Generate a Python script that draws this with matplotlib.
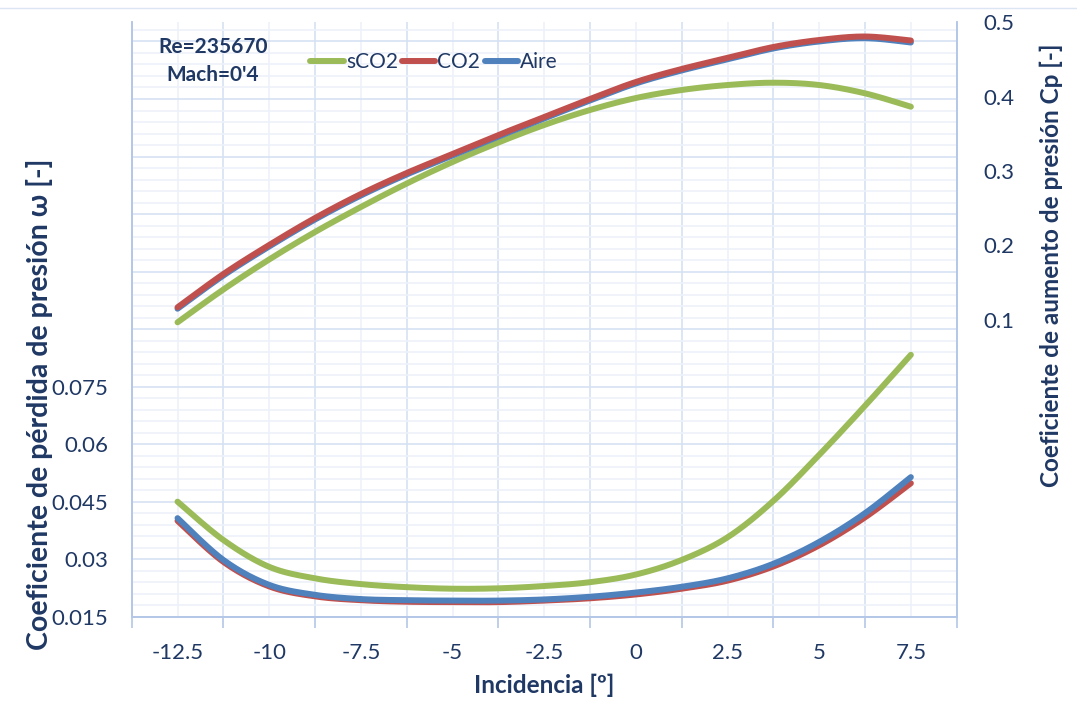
import numpy as np
import matplotlib
matplotlib.use("Agg")
import matplotlib.pyplot as plt
from matplotlib.ticker import FixedLocator, FuncFormatter

# Incidence axis: labelled categories and the sampled incidences (every 1.25 deg)
incidence_labels = ["-12.5", "-10", "-7.5", "-5", "-2.5", "0", "2.5", "5", "7.5"]
incidence = [-12.5, -11.25, -10, -8.75, -7.5, -6.25, -5, -3.75, -2.5,
             -1.25, 0, 1.25, 2.5, 3.75, 5, 6.25, 7.5]

# Pressure loss coefficient omega (left axis)
omega_sco2 = [0.0450, 0.0350, 0.0280, 0.0250, 0.0235, 0.0227, 0.0223, 0.0224, 0.0230,
              0.0240, 0.0260, 0.0298, 0.0357, 0.0452, 0.0572, 0.0700, 0.0833]
omega_co2 = [0.0400, 0.0293, 0.0229, 0.0203, 0.0193, 0.0189, 0.0188, 0.0188, 0.0192,
             0.0198, 0.0208, 0.0223, 0.0244, 0.0281, 0.0336, 0.0409, 0.0498]
omega_aire = [0.0407, 0.0298, 0.0233, 0.0207, 0.0196, 0.0193, 0.0192, 0.0192, 0.0195,
              0.0202, 0.0213, 0.0228, 0.0250, 0.0288, 0.0345, 0.0420, 0.0514]

# Pressure rise coefficient Cp (right axis)
cp_sco2 = [0.0962, 0.1404, 0.1808, 0.2178, 0.2514, 0.2830, 0.3120, 0.3382, 0.3618,
           0.3820, 0.3981, 0.4089, 0.4156, 0.4187, 0.4156, 0.4044, 0.3864]
cp_co2 = [0.1164, 0.1612, 0.2003, 0.2366, 0.2689, 0.2972, 0.3227, 0.3483, 0.3725,
          0.3968, 0.4197, 0.4372, 0.4520, 0.4668, 0.4762, 0.4809, 0.4755]
cp_aire = [0.1145, 0.1592, 0.1983, 0.2346, 0.2669, 0.2952, 0.3207, 0.3463, 0.3705,
           0.3948, 0.4177, 0.4352, 0.4500, 0.4648, 0.4742, 0.4787, 0.4728]

series_names = ["sCO2", "CO2", "Aire"]
GREEN, RED, BLUE = "#9BBB59", "#C0504D", "#4F81BD"
NAVY = "#1F3864"
GRID_MAJOR = "#D6E1F2"
GRID_MINOR = "#EDF2FA"
AXIS_LINE = "#B4C7E7"

plt.rcParams["font.family"] = ["Lato", "DejaVu Sans"]


def smooth(xs, ys, n=30):
    """Bezier smoothing through every point (Catmull-Rom style control points)."""
    xs = np.asarray(xs, float)
    ys = np.asarray(ys, float)
    px = np.concatenate([[xs[0]], xs, [xs[-1]]])
    py = np.concatenate([[ys[0]], ys, [ys[-1]]])
    out_x, out_y = [], []
    t = np.linspace(0, 1, n)
    for i in range(1, len(px) - 2):
        p0 = np.array([px[i], py[i]])
        p3 = np.array([px[i + 1], py[i + 1]])
        c1 = p0 + (np.array([px[i + 1], py[i + 1]]) - np.array([px[i - 1], py[i - 1]])) / 6
        c2 = p3 - (np.array([px[i + 2], py[i + 2]]) - np.array([px[i], py[i]])) / 6
        b = ((1 - t) ** 3)[:, None] * p0 + (3 * (1 - t) ** 2 * t)[:, None] * c1 \
            + (3 * (1 - t) * t ** 2)[:, None] * c2 + (t ** 3)[:, None] * p3
        out_x.append(b[:, 0])
        out_y.append(b[:, 1])
    return np.concatenate(out_x), np.concatenate(out_y)


fig = plt.figure(figsize=(10.77, 7.11), dpi=100)
ax = fig.add_axes([131.7 / 1077, 1 - 616.7 / 711, 825 / 1077, 594.4 / 711])
ax2 = ax.twinx()

# category coordinate: one unit per 2.5 deg, first category at 0
first = float(incidence_labels[0])
pos = (np.asarray(incidence) - first) / 2.5
cat_pos = np.arange(len(incidence_labels))
lw = 4.3

# left axis: loss coefficient (Aire drawn over CO2)
for vals, col, z in [(omega_sco2, GREEN, 3), (omega_co2, RED, 4), (omega_aire, BLUE, 5)]:
    sx, sy = smooth(pos, vals)
    ax.plot(sx, sy, color=col, lw=lw, solid_capstyle="round", zorder=z)

# right axis: pressure rise coefficient (CO2 drawn over Aire)
for vals, col, z in [(cp_sco2, GREEN, 3), (cp_aire, BLUE, 4), (cp_co2, RED, 5)]:
    sx, sy = smooth(pos, vals)
    ax2.plot(sx, sy, color=col, lw=lw, solid_capstyle="round", zorder=z)

ax.set_xlim(-0.5, len(incidence_labels) - 0.5)
ax.set_ylim(0.015, 0.17)
ax2.set_ylim(-0.3, 0.5)

# horizontal grid from the left axis
major_y = np.round(np.arange(0.015, 0.1651, 0.015), 3)
minor_y = np.round(np.arange(0.015, 0.1701, 0.003), 3)
ax.yaxis.set_major_locator(FixedLocator(major_y))
ax.yaxis.set_minor_locator(FixedLocator(minor_y))
ax.yaxis.set_major_formatter(FuncFormatter(lambda v, p: ("%g" % round(v, 3)) if v < 0.076 else ""))

# vertical grid: category boundaries (major) and centres (minor, labelled)
ax.set_xticks(np.arange(-0.5, len(incidence_labels) + 0.5, 1.0))
ax.set_xticklabels([""] * (len(incidence_labels) + 1))
ax.set_xticks(cat_pos, incidence_labels, minor=True)

ax.grid(which="major", color=GRID_MAJOR, lw=1.2, zorder=0)
ax.grid(which="minor", color=GRID_MINOR, lw=1.2, zorder=0)
ax.set_axisbelow(True)

ax.tick_params(axis="x", which="major", length=8, width=1.2, color=AXIS_LINE, direction="out")
ax.tick_params(axis="x", which="minor", length=0, pad=19, labelsize=16, labelcolor=NAVY)
ax.tick_params(axis="y", which="both", length=0, pad=17, labelsize=16, labelcolor=NAVY)

ax2.set_yticks([0.1, 0.2, 0.3, 0.4, 0.5])
ax2.yaxis.set_major_formatter(FuncFormatter(lambda v, p: "%g" % round(v, 2)))
ax2.tick_params(axis="y", length=0, pad=19, labelsize=16, labelcolor=NAVY)

for a in (ax, ax2):
    a.spines["top"].set_visible(False)
    for s in ("left", "right", "bottom"):
        a.spines[s].set_color(AXIS_LINE)
        a.spines[s].set_linewidth(1.2)
ax.patch.set_visible(False)

# chart area top edge
fig.add_artist(plt.Line2D([0, 1], [1 - 8 / 711, 1 - 8 / 711], transform=fig.transFigure,
                          color="#DCE5F3", lw=1.0))

# axis titles
fig.text(544 / 1077, 1 - 685 / 711, "Incidencia [º]", ha="center", va="center",
         fontsize=17.5, fontweight="bold", color=NAVY)
fig.text(40 / 1077, 1 - 404 / 711, "Coeficiente de pérdida de presión ω [-]", rotation=90,
         ha="center", va="center", fontsize=20.5, fontweight="bold", color=NAVY)
fig.text(1051 / 1077, 1 - 265 / 711, "Coeficiente de aumento de presión Cp [-]", rotation=90,
         ha="center", va="center", fontsize=17.5, fontweight="bold", color=NAVY)

# flow conditions
fig.text(213 / 1077, 1 - 47 / 711, "Re=235670", ha="center", va="center",
         fontsize=15, fontweight="bold", color=NAVY)
fig.text(213 / 1077, 1 - 75 / 711, "Mach=0'4", ha="center", va="center",
         fontsize=15, fontweight="bold", color=NAVY)

# legend
handles = [plt.Line2D([], [], color=c, lw=lw, solid_capstyle="round") for c in (GREEN, RED, BLUE)]
leg = ax.legend(handles, series_names, loc="center", bbox_to_anchor=(434 / 1077, 1 - 62 / 711),
                bbox_transform=fig.transFigure, ncol=3, frameon=False, fontsize=15,
                handlelength=1.6, handletextpad=0.1, columnspacing=0.2, labelcolor=NAVY)
leg.set_zorder(10)

fig.savefig("out.png", dpi=100, facecolor="white")
